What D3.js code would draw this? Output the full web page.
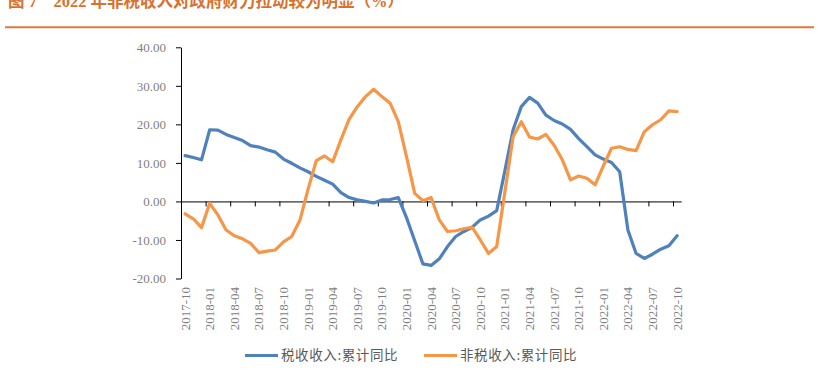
<!DOCTYPE html>
<html>
<head>
<meta charset="utf-8">
<script src="https://cdn.jsdelivr.net/npm/d3@7"></script>
<style>
  body { margin: 0; background: #fff; }
  svg { display: block; }
</style>
</head>
<body>
<div id="chart"></div>
<script>
// 2022年非税收入对政府财力拉动 — 累计同比 (%)
const months = [
  "2017-10","2017-11","2017-12",
  "2018-01","2018-02","2018-03","2018-04","2018-05","2018-06","2018-07","2018-08","2018-09","2018-10","2018-11","2018-12",
  "2019-01","2019-02","2019-03","2019-04","2019-05","2019-06","2019-07","2019-08","2019-09","2019-10","2019-11","2019-12",
  "2020-01","2020-02","2020-03","2020-04","2020-05","2020-06","2020-07","2020-08","2020-09","2020-10","2020-11","2020-12",
  "2021-01","2021-02","2021-03","2021-04","2021-05","2021-06","2021-07","2021-08","2021-09","2021-10","2021-11","2021-12",
  "2022-01","2022-02","2022-03","2022-04","2022-05","2022-06","2022-07","2022-08","2022-09","2022-10"
];

// 税收收入:累计同比
const taxYoY = [
  11.9, 11.4, 10.8,
  18.6, 18.5, 17.4, 16.6, 15.8, 14.5, 14.1, 13.4, 12.8, 11.0, 9.9, 8.7,
  7.7, 6.5, 5.5, 4.5, 2.3, 1.0, 0.4, 0.0, -0.4, 0.4, 0.5, 1.0,
  -4.2, -10.2, -16.2, -16.6, -14.9, -11.7, -9.1, -7.8, -6.7, -4.8, -3.8, -2.4,
  8.0, 18.6, 24.6, 27.0, 25.5, 22.4, 21.0, 20.1, 18.7, 16.3, 14.2, 12.1,
  11.0, 10.1, 7.7, -7.4, -13.5, -14.8, -13.7, -12.4, -11.5, -8.9
];

// 非税收入:累计同比
const nonTaxYoY = [
  -3.2, -4.5, -6.8,
  -0.5, -3.5, -7.4, -8.9, -9.7, -10.9, -13.3, -12.9, -12.6, -10.5, -9.1, -4.9,
  3.2, 10.6, 11.8, 10.3, 16.0, 21.3, 24.6, 27.2, 29.1, 27.2, 25.5, 20.7,
  11.6, 2.1, 0.2, 1.0, -4.8, -7.8, -7.6, -7.1, -6.7, -10.0, -13.5, -11.7,
  2.5, 16.8, 20.7, 16.7, 16.2, 17.4, 14.6, 10.8, 5.6, 6.6, 6.0, 4.3,
  9.2, 13.8, 14.2, 13.5, 13.2, 18.1, 19.9, 21.2, 23.5, 23.3
];

const yTicks = [-20, -10, 0, 10, 20, 30, 40];

const seriesNames = ["税收收入:累计同比", "非税收入:累计同比"];
const seriesColors = ["#4f81bd", "#f79646"];

const width = 827, height = 376;
const plot = {left: 181, right: 681.2, top: 47.3, bottom: 278.5};

const svg = d3.select("#chart").append("svg")
  .attr("width", width)
  .attr("height", height)
  .attr("viewBox", `0 0 ${width} ${height}`);

svg.append("rect").attr("width", width).attr("height", height).attr("fill", "#fff");

// title (cut off at top, as in the source)
svg.append("text")
  .attr("x", 8)
  .attr("y", 7)
  .attr("fill", "#d9712e")
  .style("font-family", "'Liberation Serif', 'Noto Sans CJK SC', serif")
  .style("font-size", "16.5px")
  .style("font-weight", "bold")
  .attr("xml:space", "preserve")
  .text("图 7    2022 年非税收入对政府财力拉动较为明显（%）");

svg.append("line")
  .attr("x1", 5).attr("x2", 814)
  .attr("y1", 27.3).attr("y2", 27.3)
  .attr("stroke", "#dd7a3b")
  .attr("stroke-width", 2);

// scales
const x = d3.scaleBand()
  .domain(months)
  .range([plot.left, plot.right])
  .paddingInner(0).paddingOuter(0);

const xIdx = d3.scaleLinear()
  .domain([0, months.length])
  .range([plot.left, plot.right]);

const y = d3.scaleLinear()
  .domain([-20, 40])
  .range([plot.bottom, plot.top]);

const cx = d => x(d) + x.bandwidth() / 2;

// y axis
const yAxis = d3.axisLeft(y)
  .tickValues(yTicks)
  .tickFormat(d => d.toFixed(2))
  .tickSize(5)
  .tickSizeOuter(0)
  .tickPadding(10);

const gy = svg.append("g")
  .attr("transform", `translate(${plot.left},0)`)
  .call(yAxis);
gy.select(".domain").attr("stroke", "#000").attr("stroke-width", 1);
gy.selectAll(".tick line").attr("stroke", "#000");
gy.selectAll(".tick text")
  .attr("fill", "#7f7f7f")
  .style("font-family", "'Liberation Serif', serif")
  .style("font-size", "13px");

// x axis at zero, tick marks every 3 months on category boundaries
const boundaryTicks = d3.range(3, months.length, 3);
const xAxis = d3.axisBottom(xIdx)
  .tickValues(boundaryTicks)
  .tickFormat("")
  .tickSize(5)
  .tickSizeOuter(0);

const gx = svg.append("g")
  .attr("transform", `translate(0,${y(0)})`)
  .call(xAxis);
gx.select(".domain").attr("stroke", "#000").attr("stroke-width", 1);
gx.selectAll(".tick line").attr("stroke", "#000");

// month labels along bottom, rotated
const labelMonths = months.filter((m, i) => i % 3 === 0);
const xLabels = d3.axisBottom(x)
  .tickValues(labelMonths)
  .tickSize(0)
  .tickPadding(0);

const gl = svg.append("g")
  .attr("transform", `translate(0,${plot.bottom})`)
  .call(xLabels);
gl.select(".domain").remove();
gl.selectAll(".tick text")
  .attr("transform", "rotate(-90)")
  .attr("text-anchor", "end")
  .attr("x", -8.5)
  .attr("y", 0)
  .attr("dy", "0.35em")
  .attr("fill", "#7f7f7f")
  .style("font-family", "'Liberation Serif', serif")
  .style("font-size", "13px");

// lines
const line = d3.line()
  .x((d, i) => cx(months[i]))
  .y(d => y(d));

[taxYoY, nonTaxYoY].forEach((vals, k) => {
  svg.append("path")
    .datum(vals)
    .attr("fill", "none")
    .attr("stroke", seriesColors[k])
    .attr("stroke-width", 3.2)
    .attr("stroke-linejoin", "round")
    .attr("stroke-linecap", "round")
    .attr("d", line);
});

// legend
const legendX = [245, 424];
const legend = svg.append("g");
seriesNames.forEach((name, k) => {
  legend.append("line")
    .attr("x1", legendX[k]).attr("x2", legendX[k] + 33)
    .attr("y1", 355.5).attr("y2", 355.5)
    .attr("stroke", seriesColors[k])
    .attr("stroke-width", 3.2);
  legend.append("text")
    .attr("x", legendX[k] + 36)
    .attr("y", 355.5)
    .attr("dy", "0.36em")
    .attr("fill", "#595959")
    .style("font-family", "'Noto Sans CJK SC', sans-serif")
    .style("font-size", "13.5px")
    .style("letter-spacing", "0.6px")
    .text(name);
});
</script>
</body>
</html>
